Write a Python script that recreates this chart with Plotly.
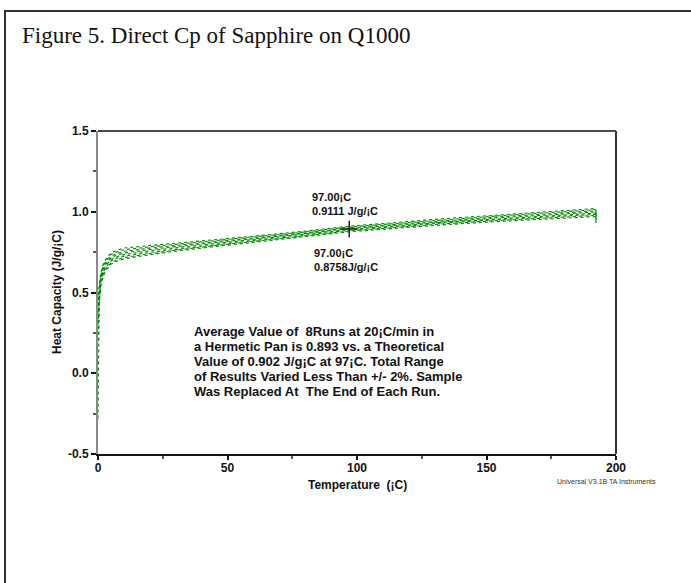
import plotly.graph_objects as go

# ---- data ----
temperature = [0, 0.5, 1, 2, 3, 5, 7, 10, 15, 20, 30, 45, 60, 80, 97, 115, 135, 155, 175, 192, 192.5]
run_1 = [-0.28, 0.44, 0.53, 0.60, 0.635, 0.675, 0.692, 0.708, 0.722, 0.734, 0.756, 0.784, 0.811, 0.844, 0.876, 0.897, 0.921, 0.94, 0.956, 0.970, 0.91]
run_2 = [0.20, 0.46, 0.55, 0.61, 0.645, 0.685, 0.70, 0.716, 0.729, 0.74, 0.762, 0.79, 0.816, 0.849, 0.881, 0.902, 0.927, 0.946, 0.963, 0.977, 0.94]
run_3 = [0.30, 0.48, 0.565, 0.625, 0.655, 0.695, 0.71, 0.725, 0.737, 0.748, 0.767, 0.795, 0.821, 0.854, 0.886, 0.907, 0.932, 0.951, 0.969, 0.984, 0.95]
run_4 = [0.35, 0.495, 0.575, 0.635, 0.665, 0.705, 0.72, 0.735, 0.748, 0.758, 0.777, 0.802, 0.827, 0.859, 0.891, 0.912, 0.937, 0.956, 0.975, 0.991, 0.96]
run_5 = [0.38, 0.505, 0.585, 0.645, 0.675, 0.715, 0.73, 0.745, 0.757, 0.766, 0.784, 0.808, 0.833, 0.865, 0.896, 0.918, 0.943, 0.963, 0.981, 0.999, 0.97]
run_6 = [0.42, 0.52, 0.595, 0.655, 0.685, 0.725, 0.74, 0.755, 0.766, 0.775, 0.791, 0.814, 0.838, 0.870, 0.901, 0.923, 0.949, 0.969, 0.988, 1.006, 0.98]
run_7 = [0.45, 0.535, 0.605, 0.665, 0.695, 0.735, 0.75, 0.765, 0.775, 0.783, 0.798, 0.82, 0.844, 0.875, 0.906, 0.928, 0.954, 0.975, 0.995, 1.013, 0.99]
run_8 = [0.48, 0.55, 0.615, 0.675, 0.705, 0.745, 0.76, 0.775, 0.784, 0.791, 0.805, 0.826, 0.849, 0.880, 0.911, 0.933, 0.959, 0.98, 1.002, 1.02, 1.0]
runs = [run_1, run_2, run_3, run_4, run_5, run_6, run_7, run_8]

cursor_T = [97.0]
cursor_cp = [0.893]
upper_label = "97.00¡C<br>0.9111 J/g/¡C"
lower_label = "97.00¡C<br>0.8758J/g/¡C"
note_lines = ["Average Value of  8Runs at 20¡C/min in",
              "a Hermetic Pan is 0.893 vs. a Theoretical",
              "Value of 0.902 J/g¡C at 97¡C. Total Range",
              "of Results Varied Less Than +/- 2%. Sample",
              "Was Replaced At  The End of Each Run."]
title_text = "Figure 5. Direct Cp of Sapphire on Q1000"
x_title = "Temperature  (¡C)"
y_title = "Heat Capacity (J/g/¡C)"
x_ticks = [0, 50, 100, 150, 200]
y_ticks = [-0.5, 0.0, 0.5, 1.0, 1.5]
y_ticktext = ["-0.5", "0.0", "0.5", "1.0", "1.5"]

# ---- layout geometry (pixels) ----
W, H = 691, 583
L, R, T, B = 98, 616, 131, 454

def px(x):
    return (x - L) / (R - L)

def py(y):
    return (B - y) / (B - T)

fig = go.Figure()
for r in runs:
    fig.add_trace(go.Scatter(x=temperature, y=r, mode="lines",
                             line=dict(color="rgb(0,135,0)", width=1.1, dash="dot"),
                             showlegend=False, hoverinfo="skip"))
fig.add_trace(go.Scatter(x=cursor_T, y=cursor_cp, mode="markers",
                         marker=dict(symbol="cross-thin", size=12,
                                     line=dict(color="#222", width=1.5)),
                         showlegend=False))

bold = "Liberation Sans, Arial, sans-serif"
fig.update_layout(
    width=W, height=H,
    margin=dict(l=L, r=W - R, t=T, b=H - B, pad=0, autoexpand=False),
    paper_bgcolor="white", plot_bgcolor="white",
    font=dict(family=bold, color="#111", size=12, weight="bold"),
    xaxis=dict(range=[0, 200], tickvals=x_ticks, ticks="outside", ticklen=4,
               tickwidth=1.5, tickcolor="#111", showgrid=False, zeroline=False,
               showline=True, linecolor="#111", linewidth=1.5,
               ticklabelstandoff=-2,
               tickfont=dict(size=12, family=bold, weight="bold"),
               minor=dict(dtick=25, ticks="outside", ticklen=3, tickcolor="#555")),
    yaxis=dict(range=[-0.5, 1.5], tickvals=y_ticks, ticktext=y_ticktext,
               ticks="outside", ticklen=5, tickwidth=1.5, tickcolor="#111",
               ticklabelstandoff=0,
               showgrid=False, zeroline=False, showline=True,
               linecolor="#888", linewidth=2,
               tickfont=dict(size=12, family=bold, weight="bold"),
               minor=dict(dtick=0.25, ticks="outside", ticklen=3, tickcolor="#555")),
)

# frame: top and right lines, outer border box
fig.add_shape(type="line", xref="paper", yref="paper", x0=0, x1=1, y0=1, y1=1,
              line=dict(color="#111", width=1.5))
fig.add_shape(type="line", xref="paper", yref="paper", x0=1, x1=1, y0=0, y1=1,
              line=dict(color="#333", width=2))
fig.add_shape(type="rect", xref="paper", yref="paper",
              x0=px(5), x1=px(720), y0=py(620), y1=py(11),
              line=dict(color="#333", width=2))

fig.add_annotation(xref="paper", yref="paper", x=px(20), y=py(36), text=title_text,
                   showarrow=False, xanchor="left", yanchor="middle",
                   font=dict(family="Liberation Serif, Times New Roman, serif",
                             size=23, color="#111", weight="normal"))
fig.add_annotation(xref="paper", yref="paper", x=px(357), y=py(485), text=x_title,
                   showarrow=False, xanchor="center", yanchor="middle",
                   font=dict(size=12, weight="bold"))
fig.add_annotation(xref="paper", yref="paper", x=px(57), y=py(292), text=y_title,
                   showarrow=False, xanchor="center", yanchor="middle", textangle=-90,
                   font=dict(size=12, weight="bold"))
fig.add_annotation(x=82, y=1.051, text=upper_label, showarrow=False, xanchor="left",
                   yanchor="middle", align="left", font=dict(size=11, weight="bold"))
fig.add_annotation(x=82.5, y=0.704, text=lower_label, showarrow=False, xanchor="left",
                   yanchor="middle", align="left", font=dict(size=11, weight="bold"))
for i, line in enumerate(note_lines):
    fig.add_annotation(xref="paper", yref="paper", x=px(192), y=py(331 + 15 * i),
                       text=line, showarrow=False, xanchor="left", yanchor="middle",
                       align="left", font=dict(size=13, weight="bold"))
fig.add_annotation(xref="paper", yref="paper", x=px(606), y=py(481),
                   text="Universal V3.1B TA Instruments", showarrow=False,
                   xanchor="center", yanchor="middle",
                   font=dict(size=7, weight="normal", color="#333"))

fig.write_html("out.html", config={"displayModeBar": False},
               post_script="document.body.style.margin='0';")
